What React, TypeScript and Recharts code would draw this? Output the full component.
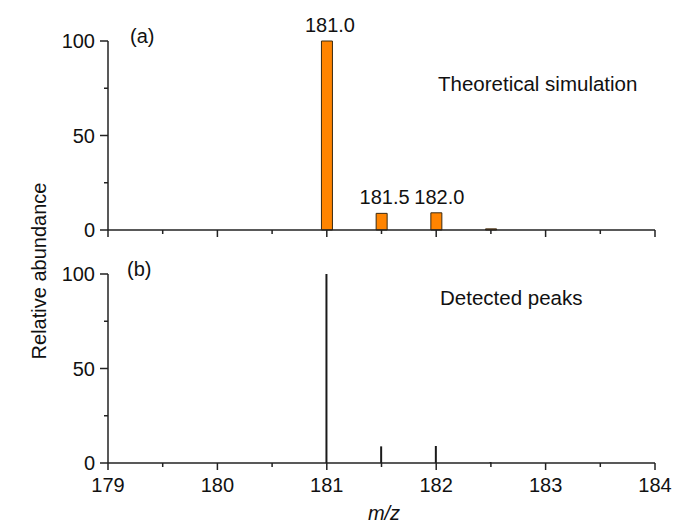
import React from 'react';
import { BarChart, Bar, XAxis, YAxis, LabelList } from 'recharts';

// peak positions (m/z) and relative abundances
const mzValues = [181.0, 181.5, 182.0, 182.5];
const simulated = [100, 8.8, 9.1, 0.6];
const detected = [100, 8.8, 9.0, 0.5];

const xTicks = [179, 179.5, 180, 180.5, 181, 181.5, 182, 182.5, 183, 183.5, 184];
const yTicks = [0, 25, 50, 75, 100];
const yLabelTicks = [0, 50, 100];

const simData = mzValues.map((mz, i) => ({ mz, abundance: simulated[i] }));
const detData = mzValues.map((mz, i) => ({ mz, abundance: detected[i] }));

const FONT = '"Liberation Sans", Arial, sans-serif';
const INK = '#222';

const XTick = (props: any) => {
    const { x, y, payload, showLabel } = props;
    const major = Number.isInteger(payload.value);
    return (
        <g>
            <line x1={x} x2={x} y1={y} y2={y + (major ? 7 : 4)} stroke={INK} strokeWidth={1.5} />
            {showLabel && major && (
                <text x={x} y={y + 29} textAnchor="middle" fill="#111" fontSize={20} fontFamily={FONT}>
                    {payload.value}
                </text>
            )}
        </g>
    );
};

const YTick = (props: any) => {
    const { x, y, payload } = props;
    const major = yLabelTicks.includes(payload.value);
    return (
        <g>
            <line x1={x - (major ? 8 : 4)} x2={x} y1={y} y2={y} stroke={INK} strokeWidth={1.5} />
            {major && (
                <text x={x - 13} y={y} dy="0.35em" textAnchor="end" fill="#111" fontSize={20} fontFamily={FONT}>
                    {payload.value}
                </text>
            )}
        </g>
    );
};

const PeakLabel = (props: any) => {
    const { x, y, width, height, value } = props;
    if (height < 5) return null;
    return (
        <text x={x + width / 2 + 3} y={y - 9} textAnchor="middle" fill="#111" fontSize={20} fontFamily={FONT}>
            {Number(value).toFixed(1)}
        </text>
    );
};

const axisLine = { stroke: INK, strokeWidth: 1.5 };

export default function App() {
    return (
        <div style={{ position: 'absolute', left: 0, top: 0, width: 678, height: 524, background: '#fff', fontFamily: FONT }}>
            {/* (a) theoretical simulation */}
            <div style={{ position: 'absolute', left: 0, top: 0 }}>
                <BarChart width={678} height={250} data={simData} margin={{ top: 41, right: 23, left: 58, bottom: 0 }}>
                    <XAxis
                        dataKey="mz"
                        type="number"
                        domain={[179, 184]}
                        ticks={xTicks}
                        interval={0}
                        height={20}
                        axisLine={axisLine}
                        tickLine={false}
                        tickSize={0}
                        tickMargin={0}
                        tick={<XTick showLabel={false} />}
                    />
                    <YAxis
                        domain={[0, 100]}
                        ticks={yTicks}
                        interval={0}
                        width={50}
                        axisLine={axisLine}
                        tickLine={false}
                        tickSize={0}
                        tickMargin={0}
                        tick={<YTick />}
                    />
                    <Bar dataKey="abundance" fill="#ff8400" stroke="#3a2a10" strokeWidth={1} barSize={11} isAnimationActive={false}>
                        <LabelList dataKey="mz" content={<PeakLabel />} />
                    </Bar>
                </BarChart>
            </div>

            {/* (b) detected peaks */}
            <div style={{ position: 'absolute', left: 0, top: 240 }}>
                <BarChart width={678} height={284} data={detData} margin={{ top: 34, right: 23, left: 58, bottom: 31 }}>
                    <XAxis
                        dataKey="mz"
                        type="number"
                        domain={[179, 184]}
                        ticks={xTicks}
                        interval={0}
                        height={30}
                        axisLine={axisLine}
                        tickLine={false}
                        tickSize={0}
                        tickMargin={0}
                        tick={<XTick showLabel />}
                    />
                    <YAxis
                        domain={[0, 100]}
                        ticks={yTicks}
                        interval={0}
                        width={50}
                        axisLine={axisLine}
                        tickLine={false}
                        tickSize={0}
                        tickMargin={0}
                        tick={<YTick />}
                    />
                    <Bar dataKey="abundance" fill="#1a1a1a" barSize={2} isAnimationActive={false} />
                </BarChart>
            </div>

            {/* annotations */}
            <svg width={678} height={524} style={{ position: 'absolute', left: 0, top: 0, pointerEvents: 'none' }}>
                <g fontFamily={FONT} fontSize={20} fill="#111">
                    <text x={130} y={43}>(a)</text>
                    <text x={127} y={276}>(b)</text>
                    <text x={438} y={91} fontSize={20.5}>Theoretical simulation</text>
                    <text x={440} y={305} fontSize={20.5}>Detected peaks</text>
                    <text x={39} y={271} textAnchor="middle" dy="0.35em" transform="rotate(-90 39 271)">
                        Relative abundance
                    </text>
                    <text x={384} y={520} textAnchor="middle" fontStyle="italic">m/z</text>
                </g>
            </svg>
        </div>
    );
}
